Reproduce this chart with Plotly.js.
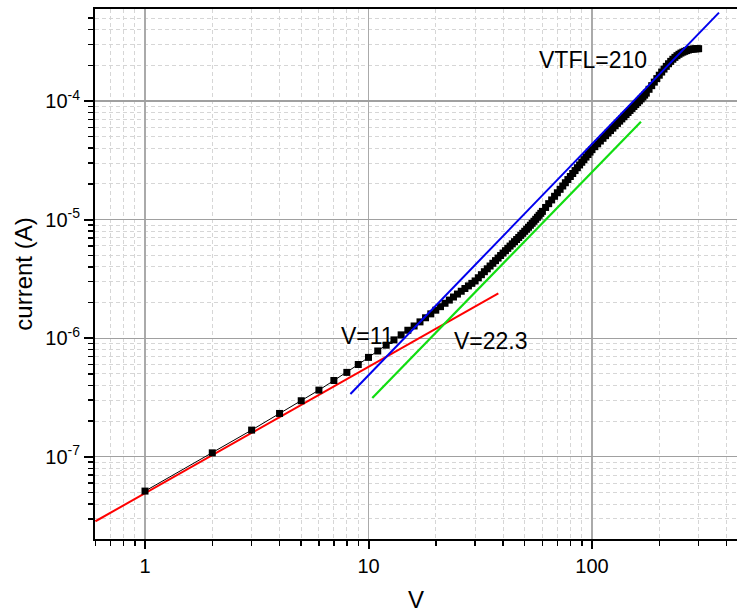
<!DOCTYPE html>
<html>
<head>
<meta charset="utf-8">
<script src="https://cdn.plot.ly/plotly-3.0.1.min.js"></script>
<style>html,body{margin:0;padding:0;background:#fff;}#chart{width:737px;height:613px;}</style>
</head>
<body>
<div id="chart"></div>
<script>
// Measured I-V data (V in volts, current in A)
const voltage = [1,2,3,4,5,6,7,8,9,10,11,12,13,14,15,16,17,18,19,20,
  21,22,23,24,25,26,27,28,29,30,31,32,33,34,35,36,37,38,39,40,
  41,42,43,44,45,46,47,48,49,50,51,52,53,54,55,56,57,58,59,60,
  62,64,66,68,70,72,74,76,78,80,82,84,86,88,90,92,94,96,98,100,
  103,106,109,112,115,118,121,124,127,130,133,136,139,142,145,148,151,154,157,160,163,166,169,172,175,
  180,185,190,195,200,205,210,215,220,225,230,235,240,245,250,255,260,265,270,275,280,285,290,295,300];
const current = [5.14e-8,1.08e-7,1.68e-7,2.32e-7,2.97e-7,3.65e-7,4.40e-7,5.15e-7,6.00e-7,6.89e-7,
  7.80e-7,8.73e-7,9.68e-7,1.067e-6,1.167e-6,1.268e-6,1.373e-6,1.487e-6,1.604e-6,1.723e-6,
  1.845e-6,1.970e-6,2.096e-6,2.225e-6,2.356e-6,2.489e-6,2.624e-6,2.761e-6,2.900e-6,3.040e-6,
  3.234e-6,3.432e-6,3.637e-6,3.847e-6,4.062e-6,4.283e-6,4.509e-6,4.741e-6,4.978e-6,5.222e-6,
  5.469e-6,5.723e-6,5.982e-6,6.247e-6,6.516e-6,6.792e-6,7.072e-6,7.360e-6,7.660e-6,7.970e-6,
  8.290e-6,8.620e-6,8.960e-6,9.310e-6,9.680e-6,1.006e-5,1.046e-5,1.087e-5,1.129e-5,1.173e-5,
  1.266e-5,1.363e-5,1.465e-5,1.572e-5,1.684e-5,1.800e-5,1.921e-5,2.046e-5,2.176e-5,2.310e-5,
  2.448e-5,2.591e-5,2.738e-5,2.889e-5,3.044e-5,3.204e-5,3.368e-5,3.537e-5,3.711e-5,3.890e-5,
  4.120e-5,4.356e-5,4.598e-5,4.847e-5,5.103e-5,5.363e-5,5.631e-5,5.904e-5,6.185e-5,6.471e-5,
  6.765e-5,7.065e-5,7.369e-5,7.681e-5,8.000e-5,8.323e-5,8.653e-5,8.989e-5,9.333e-5,9.683e-5,
  1.004e-4,1.041e-4,1.080e-4,1.121e-4,1.165e-4,
  1.255e-4,1.347e-4,1.443e-4,1.545e-4,1.650e-4,1.754e-4,1.858e-4,1.959e-4,2.061e-4,2.158e-4,
  2.249e-4,2.333e-4,2.410e-4,2.477e-4,2.535e-4,2.582e-4,2.624e-4,2.661e-4,2.692e-4,2.716e-4,
  2.735e-4,2.748e-4,2.754e-4,2.761e-4,2.761e-4];

// Fit lines (endpoints)
const ohmicFitV = [0.6, 38.1];
const ohmicFitI = [2.86e-8, 2.39e-6];
const tfFitV = [8.3, 370];
const tfFitI = [3.39e-7, 5.56e-4];
const sclcFitV = [10.4, 165.6];
const sclcFitI = [3.13e-7, 6.68e-5];

// Tick labels
const xTickVals = [1, 10, 100];
const xTickText = ['1', '10', '100'];
const yTickVals = [1e-7, 1e-6, 1e-5, 1e-4];
const yTickText = ['10<sup>-7</sup>', '10<sup>-6</sup>', '10<sup>-5</sup>', '10<sup>-4</sup>'];

// Annotation texts
const labelTexts = ['V=11', 'V=22.3', 'VTFL=210'];

const FONT = 'Liberation Sans, Arial, sans-serif';

const traces = [
  {x: ohmicFitV, y: ohmicFitI, mode: 'lines', line: {color: '#ff0000', width: 2}},
  {x: voltage, y: current, mode: 'lines+markers',
   line: {color: '#000000', width: 1},
   marker: {symbol: 'square', size: 7, color: '#000000'}},
  {x: tfFitV, y: tfFitI, mode: 'lines', line: {color: '#0000ee', width: 2}},
  {x: sclcFitV, y: sclcFitI, mode: 'lines', line: {color: '#11dd11', width: 2.2}}
];

const minorCommon = {
  ticks: 'outside', ticklen: 5, tickwidth: 1.5, tickcolor: '#000',
  dtick: 'D1', showgrid: true, gridcolor: '#d6d6d6', gridwidth: 1, griddash: '4px,3px'
};

const layout = {
  width: 737, height: 613,
  margin: {l: 95, r: 0, t: 9, b: 74},
  paper_bgcolor: '#ffffff', plot_bgcolor: '#ffffff',
  showlegend: false,
  font: {family: FONT, color: '#000', size: 20},
  xaxis: {
    type: 'log', range: [-0.2237, 2.6488],
    tickmode: 'array', tickvals: xTickVals, ticktext: xTickText,
    ticks: 'outside', ticklen: 8, tickwidth: 2, tickcolor: '#000',
    showline: true, linecolor: '#000', linewidth: 2, mirror: true,
    showgrid: true, gridcolor: '#aaaaaa', gridwidth: 1.2,
    zeroline: false,
    tickfont: {family: FONT, size: 20, color: '#000'},
    minor: minorCommon,
    title: {text: 'V', font: {family: FONT, size: 24, color: '#000'}, standoff: 20}
  },
  yaxis: {
    type: 'log', range: [-7.693, -3.2243],
    tickmode: 'array', tickvals: yTickVals, ticktext: yTickText,
    ticks: 'outside', ticklen: 9, tickwidth: 2, tickcolor: '#000',
    showline: true, linecolor: '#000', linewidth: 2,
    showgrid: true, gridcolor: '#a0a0a0', gridwidth: 1.2,
    zeroline: false,
    tickfont: {family: FONT, size: 20, color: '#000'},
    minor: minorCommon,
    title: {text: 'current (A)', font: {family: FONT, size: 24, color: '#000'}, standoff: 6}
  },
  annotations: [
    {x: 0.9933, y: -5.9815, xref: 'x', yref: 'y', text: labelTexts[0], showarrow: false,
     xanchor: 'center', yanchor: 'middle', font: {family: FONT, size: 23, color: '#000'}},
    {x: 1.549, y: -6.026, xref: 'x', yref: 'y', text: labelTexts[1], showarrow: false,
     xanchor: 'center', yanchor: 'middle', font: {family: FONT, size: 23, color: '#000'}},
    {x: 2.006, y: -3.654, xref: 'x', yref: 'y', text: labelTexts[2], showarrow: false,
     xanchor: 'center', yanchor: 'middle', font: {family: FONT, size: 23, color: '#000'}}
  ]
};

Plotly.newPlot('chart', traces, layout, {displayModeBar: false, staticPlot: true});
</script>
</body>
</html>
